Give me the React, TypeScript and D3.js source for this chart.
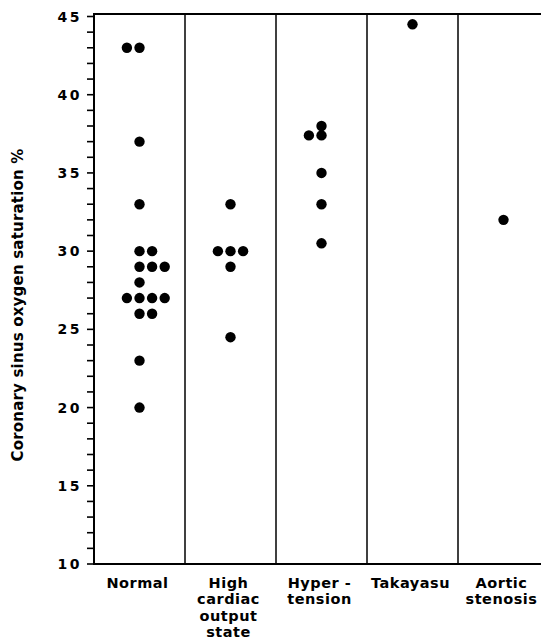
import React from "react";
import * as d3 from "d3";

const categories = ["Normal", "High cardiac output state", "Hypertension", "Takayasu", "Aortic stenosis"];
const categoryLabels: string[][] = [
  ["Normal"],
  ["High", "cardiac", "output", "state"],
  ["Hyper -", "tension"],
  ["Takayasu"],
  ["Aortic", "stenosis"],
];

// values (%) and horizontal slot within the column
const normalValues = [43, 43, 37, 33, 30, 30, 29, 29, 29, 28, 27, 27, 27, 27, 26, 26, 23, 20];
const normalSlots = [-1, 0, 0, 0, 0, 1, 0, 1, 2, 0, -1, 0, 1, 2, 0, 1, 0, 0];
const highValues = [33, 30, 30, 30, 29, 24.5];
const highSlots = [0, -1, 0, 1, 0, 0];
const hyperValues = [38, 37.4, 37.4, 35, 33, 30.5];
const hyperSlots = [0, -1, 0, 0, 0, 0];
const takayasuValues = [44.5];
const takayasuSlots = [0];
const aorticValues = [32];
const aorticSlots = [0];

const seriesValues = [normalValues, highValues, hyperValues, takayasuValues, aorticValues];
const seriesSlots = [normalSlots, highSlots, hyperSlots, takayasuSlots, aorticSlots];

const yTicks = d3.range(10, 46, 1);
const yLabels = [10, 15, 20, 25, 30, 35, 40, 45];

const FONT = "'DejaVu Sans', sans-serif";

export default function App() {
  const W = 541, H = 644;
  const left = 94, top = 14, bottom = 564;
  const x = d3.scaleBand<string>().domain(categories).range([left, left + 5 * 91]).padding(0);
  const y = d3.scaleLinear().domain([10, 45]).range([bottom, 16.5]);
  const slotW = 12.6;

  return (
    <svg width={W} height={H} style={{ position: "absolute", left: 0, top: 0, background: "#fff" }}>
      <rect width={W} height={H} fill="#fff" />
      {/* frame */}
      <line x1={left} x2={W} y1={top} y2={top} stroke="#000" strokeWidth={2} />
      <line x1={left} x2={W} y1={bottom} y2={bottom} stroke="#000" strokeWidth={2} />
      <line x1={left} x2={left} y1={top - 1} y2={bottom + 1} stroke="#000" strokeWidth={2} />
      {categories.slice(1).map((c) => (
        <line key={c} x1={x(c)!} x2={x(c)!} y1={top} y2={bottom} stroke="#000" strokeWidth={1.5} />
      ))}
      {/* y ticks */}
      {yTicks.map((t) => (
        <line key={t} x1={left - 7} x2={left} y1={y(t)} y2={y(t)} stroke="#000" strokeWidth={1.6} />
      ))}
      {yLabels.map((t) => (
        <text key={t} x={82} y={y(t)} dy="0.36em" textAnchor="end" fontFamily={FONT} fontWeight="bold"
          fontSize={14} letterSpacing={2.5}>{t}</text>
      ))}
      {/* y title */}
      <text transform={`translate(18,${305}) rotate(-90)`} textAnchor="middle" dy="0.35em" fontFamily={FONT}
        fontWeight="bold" fontSize={15} letterSpacing={0.2}>Coronary sinus oxygen saturation %</text>
      {/* dots */}
      {categories.map((c, i) =>
        seriesValues[i].map((v, j) => (
          <circle key={c + j} cx={x(c)! + x.bandwidth() / 2 + seriesSlots[i][j] * slotW} cy={y(v)} r={5.2} fill="#000" />
        ))
      )}
      {/* x labels */}
      {categories.map((c, i) => (
        <text key={c} textAnchor="middle" fontFamily={FONT} fontWeight="bold" fontSize={14.5} letterSpacing={0.5}>
          {categoryLabels[i].map((l, k) => (
            <tspan key={k} x={x(c)! + x.bandwidth() / 2 - 2} y={588 + k * 16.3}>{l}</tspan>
          ))}
        </text>
      ))}
    </svg>
  );
}
